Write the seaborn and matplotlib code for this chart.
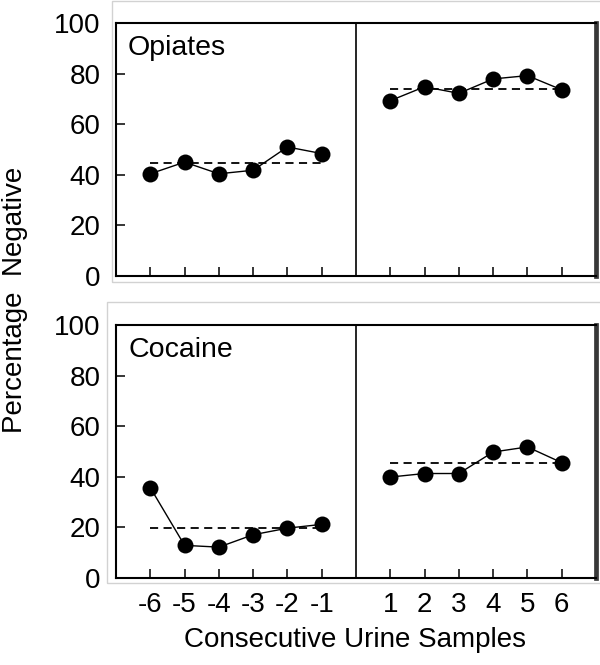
import matplotlib
matplotlib.use("Agg")
import matplotlib.pyplot as plt
from matplotlib.patches import Rectangle
import seaborn as sns
import pandas as pd

# ---- data ----
baseline_labels = ["-6", "-5", "-4", "-3", "-2", "-1"]
treatment_labels = ["1", "2", "3", "4", "5", "6"]
panel_names = ["Opiates", "Cocaine"]

opiates_baseline = [40.4, 45.0, 40.4, 41.8, 51.0, 48.4]
opiates_treatment = [69.3, 74.8, 72.2, 77.9, 79.2, 73.6]
cocaine_baseline = [35.7, 12.9, 12.2, 17.1, 19.7, 21.2]
cocaine_treatment = [39.9, 41.3, 41.3, 49.8, 51.8, 45.6]

opiates_means = [44.6, 73.8]   # dashed reference lines (baseline, treatment)
cocaine_means = [19.9, 45.5]

y_ticks = [0, 20, 40, 60, 80, 100]
x_label = "Consecutive Urine Samples"
y_label = "Percentage  Negative"

# ---- style ----
sns.set_theme(style="white")
plt.rcParams["font.family"] = ["Liberation Sans", "DejaVu Sans"]
plt.rcParams["text.color"] = "black"

fig = plt.figure(figsize=(6.0, 6.65), dpi=100)
W, H = 600.0, 665.0

def fx(px):
    return px / W

def fy(py):
    return 1 - py / H

# light grey panel frames
for (x0, y0, y1) in [(112, 1, 282), (107, 302, 583)]:
    fig.patches.append(Rectangle((fx(x0), fy(y1)), 1.2, (y1 - y0) / H,
                                 transform=fig.transFigure, fill=False,
                                 edgecolor="#d2d2d2", lw=1.0, zorder=0))

ax_left, ax_right = 116, 596
axes_px = [(23, 276), (325, 578)]

panels = [
    (opiates_baseline, opiates_treatment, opiates_means),
    (cocaine_baseline, cocaine_treatment, cocaine_means),
]

n_b = len(baseline_labels)
all_labels = baseline_labels + treatment_labels
positions = list(range(n_b)) + [n_b + 1 + i for i in range(len(treatment_labels))]
divider = n_b

for i, ((top, bot), (base, treat, means)) in enumerate(zip(axes_px, panels)):
    ax = fig.add_axes([fx(ax_left), fy(bot), (ax_right - ax_left) / W, (bot - top) / H])
    df = pd.DataFrame({
        "pos": positions,
        "value": base + treat,
        "phase": ["baseline"] * n_b + ["treatment"] * len(treat),
    })
    mdf = pd.DataFrame({
        "pos": [positions[0], positions[n_b - 1], positions[n_b], positions[-1]],
        "value": [means[0], means[0], means[1], means[1]],
        "phase": ["baseline", "baseline", "treatment", "treatment"],
    })
    for ph in ["baseline", "treatment"]:
        sub = mdf[mdf["phase"] == ph]
        sns.lineplot(data=sub, x="pos", y="value", ax=ax, color="black",
                     lw=1.3, linestyle=(0, (4.5, 3.0)), zorder=2)
        sub2 = df[df["phase"] == ph]
        sns.lineplot(data=sub2, x="pos", y="value", ax=ax, color="black",
                     lw=1.0, marker="o", markersize=11.5, markeredgewidth=0,
                     zorder=3)
    ax.axvline(divider, color="black", lw=1.2, zorder=1)
    ax.set_xlim(-1, positions[-1] + 1)
    ax.set_ylim(0, 100)
    ax.set_yticks(y_ticks)
    ax.set_xticks(positions)
    if i == 1:
        ax.set_xticklabels(all_labels)
    else:
        ax.set_xticklabels([])
    ax.set_xlabel("")
    ax.set_ylabel("")
    ax.tick_params(axis="both", which="major", direction="in", length=6.5,
                   width=1.1, color="black", labelsize=20, labelcolor="black",
                   left=True, bottom=True, top=False, right=False)
    ax.tick_params(axis="y", pad=11)
    ax.tick_params(axis="x", pad=10)
    for s in ["left", "top", "bottom"]:
        ax.spines[s].set_visible(True)
        ax.spines[s].set_color("black")
        ax.spines[s].set_linewidth(1.5)
    ax.spines["right"].set_visible(True)
    ax.spines["right"].set_color("#383838")
    ax.spines["right"].set_linewidth(3.4)
    ax.text(0.025, 0.90, panel_names[i], transform=ax.transAxes,
            fontsize=20.5, ha="left", va="center", color="black")
    ax.set_facecolor("white")

fig.text(fx(355), fy(640), x_label, ha="center", va="center", fontsize=20,
         color="black")
fig.text(fx(15), fy(300), y_label, ha="center", va="center", fontsize=20,
         rotation=90, color="black")

fig.savefig("out.png", dpi=100, facecolor="white")
